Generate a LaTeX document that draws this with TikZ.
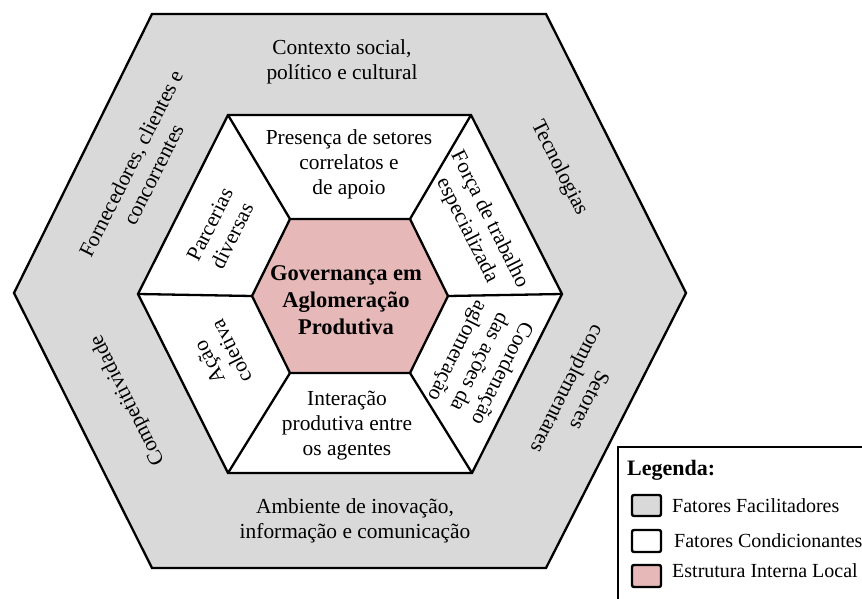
\documentclass[tikz,border=0pt]{standalone}
\usepackage{fontspec}
\setmainfont{Liberation Serif}
\definecolor{facil}{HTML}{D9D9D9}
\definecolor{estrut}{HTML}{E6B8B7}
\begin{document}
\begin{tikzpicture}[x=1pt,y=1pt,
  edge/.style={draw=black,line width=2.3pt,line join=miter},
  lbl/.style={align=center,inner sep=0pt,font=\fontsize{21.4}{25}\selectfont},
  bold/.style={align=center,inner sep=0pt,font=\fontsize{22.5}{27}\selectfont\bfseries},
  leg/.style={anchor=base west,inner sep=0pt,font=\fontsize{20}{24}\selectfont},
  legsq/.style={draw=black,line width=2.4pt,rounded corners=2pt}]
\useasboundingbox (0,0) rectangle (862,-599);
\clip (0,0) rectangle (862,-599);
% outer hexagon
\coordinate (O1) at (14,-293);
\coordinate (O2) at (152,-14);
\coordinate (O3) at (546,-14);
\coordinate (O4) at (686,-293);
\coordinate (O5) at (546,-568);
\coordinate (O6) at (152,-568);
% inner hexagon
\coordinate (I1) at (138,-294);
\coordinate (I2) at (228,-115);
\coordinate (I3) at (471,-115);
\coordinate (I4) at (562,-294);
\coordinate (I5) at (472,-473);
\coordinate (I6) at (228,-473);
% central hexagon
\coordinate (P1) at (252,-296);
\coordinate (P2) at (290,-219);
\coordinate (P3) at (410,-219);
\coordinate (P4) at (448,-296);
\coordinate (P5) at (410,-373);
\coordinate (P6) at (290,-373);
\fill[facil] (O1)--(O2)--(O3)--(O4)--(O5)--(O6)--cycle;
\draw[edge] (O1)--(O2)--(O3)--(O4)--(O5)--(O6)--cycle;
\fill[white] (I1)--(I2)--(I3)--(I4)--(I5)--(I6)--cycle;
\draw[edge] (I1)--(I2)--(I3)--(I4)--(I5)--(I6)--cycle;
\draw[edge] (I1)--(P1) (I2)--(P2) (I3)--(P3) (I4)--(P4) (I5)--(P5) (I6)--(P6);
\fill[estrut] (P1)--(P2)--(P3)--(P4)--(P5)--(P6)--cycle;
\draw[edge] (P1)--(P2)--(P3)--(P4)--(P5)--(P6)--cycle;
% outer ring texts
\node[lbl] (contexto) at (342,-61.5) {Contexto social,\\político e cultural};
\node[lbl,rotate=63.3] (fornec) at (142,-169) {Fornecedores, clientes e\\concorrentes};
\node[lbl,rotate=-63.3] (tecno) at (559,-168) {Tecnologias};
\node[lbl,rotate=-116.7] (setores) at (577,-394) {Setores\\complementares};
\node[lbl,rotate=116.7] (compet) at (128,-400) {Competitividade};
\node[lbl] (ambiente) at (355,-521) {Ambiente de inovação,\\informação e comunicação};
% inner ring texts
\node[lbl] (presenca) at (349,-164) {Presença de setores\\correlatos e\\de apoio};
\node[lbl,rotate=63.3] (parcerias) at (221,-230) {Parcerias\\diversas};
\node[lbl,rotate=-63.3] (forca) at (478,-225) {Força de trabalho\\especializada};
\node[lbl,rotate=-116.7] (coord) at (479,-362) {Coordenação\\das ações da\\aglomeração};
\node[lbl,rotate=116.7] (acao) at (220,-357) {Ação\\coletiva};
\node[lbl] (interacao) at (347,-426) {Interação\\produtiva entre\\os agentes};
% centre
\node[bold] (gov) at (346,-300) {Governança em\\Aglomeração\\Produtiva};
% legend
\draw[draw=black,line width=2pt] (618,-447) rectangle (890,-630);
\node[leg,font=\fontsize{22}{26}\selectfont\bfseries] (legtit) at (627,-475) {Legenda:};
\draw[legsq,fill=facil] (632,-495) rectangle (661,-516);
\draw[legsq,fill=white] (632,-530) rectangle (661,-552);
\draw[legsq,fill=estrut] (632,-565) rectangle (661,-587);
\node[leg] (leg1) at (672,-512) {Fatores Facilitadores};
\node[leg] (leg2) at (674,-547) {Fatores Condicionantes};
\node[leg] (leg3) at (672,-577) {Estrutura Interna Local};
\end{tikzpicture}
\end{document}
